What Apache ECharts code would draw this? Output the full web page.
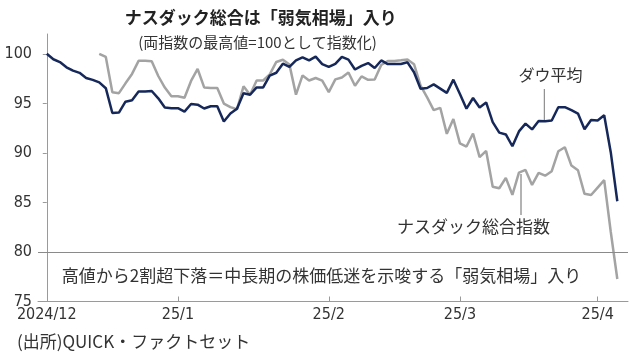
<!DOCTYPE html>
<html>
<head>
<meta charset="utf-8">
<script src="https://cdn.jsdelivr.net/npm/echarts@6/dist/echarts.min.js"></script>
<style>
html,body{margin:0;padding:0;background:#fff;}
#c{width:638px;height:357px;}
</style>
</head>
<body>
<div id="c"></div>
<script>
// Weekdays (trading calendar incl. market holidays carried flat)
const dates = [
 '2024-12-04','2024-12-05','2024-12-06','2024-12-09','2024-12-10','2024-12-11','2024-12-12','2024-12-13','2024-12-16','2024-12-17',
 '2024-12-18','2024-12-19','2024-12-20','2024-12-23','2024-12-24','2024-12-25','2024-12-26','2024-12-27','2024-12-30','2024-12-31',
 '2025-01-01','2025-01-02','2025-01-03','2025-01-06','2025-01-07','2025-01-08','2025-01-09','2025-01-10','2025-01-13','2025-01-14',
 '2025-01-15','2025-01-16','2025-01-17','2025-01-20','2025-01-21','2025-01-22','2025-01-23','2025-01-24','2025-01-27','2025-01-28',
 '2025-01-29','2025-01-30','2025-01-31',
 '2025-02-03','2025-02-04','2025-02-05','2025-02-06','2025-02-07','2025-02-10','2025-02-11','2025-02-12','2025-02-13','2025-02-14',
 '2025-02-17','2025-02-18','2025-02-19','2025-02-20','2025-02-21','2025-02-24','2025-02-25','2025-02-26','2025-02-27','2025-02-28',
 '2025-03-03','2025-03-04','2025-03-05','2025-03-06','2025-03-07','2025-03-10','2025-03-11','2025-03-12','2025-03-13','2025-03-14',
 '2025-03-17','2025-03-18','2025-03-19','2025-03-20','2025-03-21','2025-03-24','2025-03-25','2025-03-26','2025-03-27','2025-03-28',
 '2025-03-31',
 '2025-04-01','2025-04-02','2025-04-03','2025-04-04'
];
const dow = [
 100, 99.45, 99.17, 98.64, 98.30, 98.08, 97.56, 97.37, 97.12, 96.53,
 94.03, 94.07, 95.17, 95.32, 96.19, 96.19, 96.25, 95.51, 94.58, 94.51,
 94.51, 94.17, 94.93, 94.87, 94.48, 94.71, 94.71, 93.17, 93.97, 94.46,
 96.02, 95.87, 96.61, 96.61, 97.80, 98.09, 99.00, 98.69, 99.33, 99.64,
 99.33, 99.71, 98.96,
 98.68, 98.98, 99.69, 99.41, 98.42, 98.79, 99.07, 98.57, 99.33, 98.96,
 98.96, 98.98, 99.14, 98.14, 96.48, 96.55, 96.91, 96.49, 96.06, 97.39,
 95.95, 94.46, 95.54, 94.59, 95.09, 93.11, 92.05, 91.86, 90.67, 92.17,
 92.95, 92.37, 93.23, 93.20, 93.27, 94.60, 94.61, 94.31, 93.97, 92.38,
 93.31,
 93.28, 93.80, 90.07, 85.12
];
const nasdaq = [
 null, null, null, null, null, null, null, null, 100, 99.68,
 96.13, 96.03, 97.02, 97.97, 99.29, 99.29, 99.24, 97.76, 96.59, 95.72,
 95.72, 95.57, 97.26, 98.47, 96.61, 96.56, 96.56, 94.98, 94.62, 94.40,
 96.72, 95.86, 97.31, 97.31, 97.93, 99.18, 99.40, 98.91, 95.88, 97.82,
 97.31, 97.56, 97.29,
 96.13, 97.42, 97.61, 98.11, 96.78, 97.72, 97.37, 97.40, 98.87, 99.27,
 99.27, 99.34, 99.42, 98.95, 96.78, 95.60, 94.31, 94.55, 91.92, 93.42,
 90.96, 90.64, 91.96, 89.57, 90.20, 86.59, 86.43, 87.48, 85.77, 88.01,
 88.28, 86.77, 87.99, 87.70, 88.15, 90.16, 90.57, 88.72, 88.25, 85.87,
 85.75,
 86.50, 87.25, 82.04, 77.27
];
const monthLabels = ['2024/12','25/1','25/2','25/3','25/4'];
const yTicks = [75, 80, 85, 90, 95, 100];
const bearLevel = 80;

// first index of each month
const monthStarts = [];
dates.forEach((d, i) => {
  if (i === 0 || d.slice(0, 7) !== dates[i - 1].slice(0, 7)) monthStarts.push(i);
});
const labelByIndex = {};
monthStarts.forEach((idx, k) => { labelByIndex[idx] = monthLabels[k]; });

const NUM = "'Liberation Sans Narrow','DejaVu Sans Condensed','Noto Sans CJK JP',sans-serif";
const JP = "'Noto Sans CJK JP','Noto Sans',sans-serif";

const chart = echarts.init(document.getElementById('c'), null, {renderer: 'canvas'});
chart.setOption({
  animation: false,
  backgroundColor: '#fff',
  grid: {left: 38, right: 10, top: 34, bottom: 55.5, containLabel: false},
  xAxis: {
    type: 'value',
    min: -1.34, max: 88.63,
    splitLine: {show: false},
    axisLine: {show: true, lineStyle: {color: '#9a9a9a', width: 1}},
    axisTick: {show: true, inside: true, length: 5, customValues: monthStarts, lineStyle: {color: '#9a9a9a'}},
    axisLabel: {
      customValues: monthStarts, margin: 5,
      fontFamily: NUM, fontSize: 16, color: '#333',
      formatter: v => labelByIndex[Math.round(v)] || ''
    }
  },
  yAxis: {
    type: 'value', min: 75, max: 102, interval: 5,
    splitLine: {show: false},
    axisLine: {show: true, lineStyle: {color: '#9a9a9a', width: 1}},
    axisTick: {show: true, inside: false, length: 4, lineStyle: {color: '#9a9a9a'}},
    axisLabel: {
      margin: 6, fontFamily: NUM, fontSize: 16, color: '#333',
      showMaxLabel: false,
      formatter: v => (yTicks.indexOf(v) >= 0 ? String(v) : '')
    }
  },
  series: [
    {
      name: 'ナスダック総合指数', type: 'line', symbol: 'none', connectNulls: false,
      data: nasdaq.map((v, i) => [i, v]),
      lineStyle: {color: '#a3a3a3', width: 2.5}, z: 2,
      markLine: {
        silent: true, symbol: ['none', 'none'], label: {show: false},
        lineStyle: {color: '#8a8a8a', width: 1, type: 'solid'},
        data: [{yAxis: bearLevel}]
      }
    },
    {
      name: 'ダウ平均', type: 'line', symbol: 'none',
      data: dow.map((v, i) => [i, v]),
      lineStyle: {color: '#16285a', width: 2.5}, z: 3
    }
  ],
  graphic: [
    {type: 'text', x: 260.7, y: 17.5, style: {text: 'ナスダック総合は「弱気相場」入り', font: 'bold 17px ' + JP, fill: '#222', textAlign: 'center', textVerticalAlign: 'middle'}},
    {type: 'text', x: 257.5, y: 42.5, style: {text: '(両指数の最高値=100として指数化)', font: '15px ' + JP, fill: '#333', textAlign: 'center', textVerticalAlign: 'middle'}},
    {type: 'text', x: 550.5, y: 75, style: {text: 'ダウ平均', font: '16px ' + JP, fill: '#333', textAlign: 'center', textVerticalAlign: 'middle'}},
    {type: 'line', shape: {x1: 544.3, y1: 89, x2: 544.3, y2: 121}, style: {stroke: '#777', lineWidth: 1}},
    {type: 'text', x: 473.5, y: 227, style: {text: 'ナスダック総合指数', font: '17px ' + JP, fill: '#333', textAlign: 'center', textVerticalAlign: 'middle'}},
    {type: 'line', shape: {x1: 521, y1: 174, x2: 521, y2: 215}, style: {stroke: '#9a9a9a', lineWidth: 1.5}},
    {type: 'text', x: 61.7, y: 276, style: {text: '高値から2割超下落＝中長期の株価低迷を示唆する「弱気相場」入り', font: '17px ' + JP, fill: '#333', textAlign: 'left', textVerticalAlign: 'middle'}},
    {type: 'text', x: 17, y: 342, style: {text: '(出所)QUICK・ファクトセット', font: '17px ' + JP, fill: '#333', textAlign: 'left', textVerticalAlign: 'middle'}}
  ]
});
</script>
</body>
</html>
